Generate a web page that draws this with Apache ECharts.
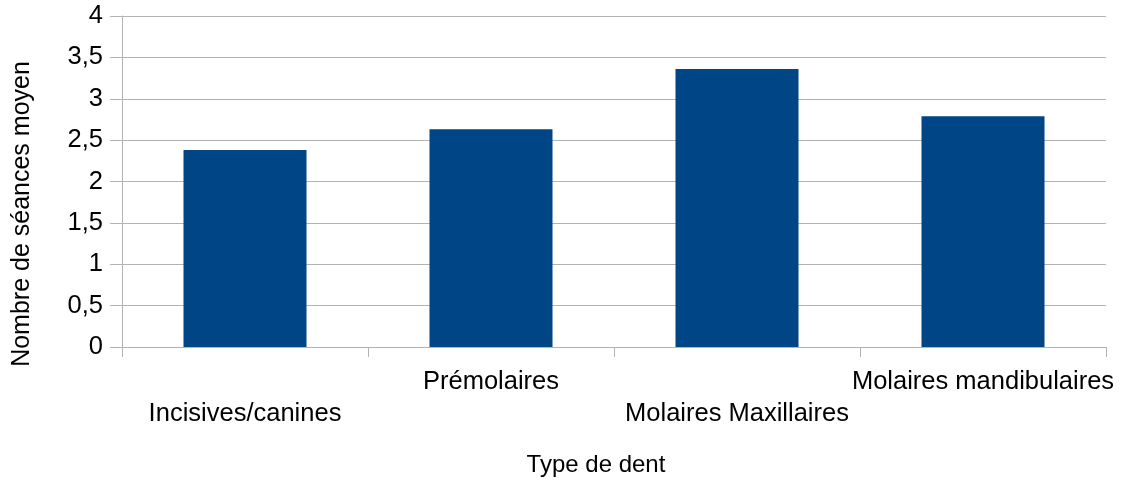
<!DOCTYPE html>
<html>
<head>
<meta charset="utf-8">
<script src="https://cdn.jsdelivr.net/npm/echarts@6/dist/echarts.min.js"></script>
<style>
html,body{margin:0;padding:0;background:#fff;}
#chart{width:1121px;height:483px;}
</style>
</head>
<body>
<div id="chart"></div>
<script>
const categories = ['Incisives/canines', 'Prémolaires', 'Molaires Maxillaires', 'Molaires mandibulaires'];
const values = [2.38, 2.63, 3.36, 2.79];
const yTicks = [0, 0.5, 1, 1.5, 2, 2.5, 3, 3.5, 4];
const yAxisTitle = 'Nombre de séances moyen';
const xAxisTitle = 'Type de dent';

const FONT = '"Liberation Sans", Arial, sans-serif';
const GRAY = '#b3b3b3';

const chart = echarts.init(document.getElementById('chart'), null, {renderer: 'canvas'});
chart.setOption({
  animation: false,
  backgroundColor: '#ffffff',
  grid: {left: 122, right: 15, top: 16, bottom: 136, containLabel: false},
  xAxis: {
    type: 'category',
    data: categories,
    boundaryGap: true,
    axisLine: {show: true, lineStyle: {color: GRAY, width: 1}},
    axisTick: {show: true, length: 10, alignWithLabel: false, lineStyle: {color: GRAY}},
    axisLabel: {
      interval: 0,
      margin: 19,
      color: '#000',
      fontFamily: FONT,
      fontSize: 25.5,
      lineHeight: 32,
      formatter: function (v, i) { return i % 2 === 0 ? '\n' + v : v; }
    },
    splitLine: {show: false}
  },
  yAxis: {
    type: 'value',
    min: yTicks[0],
    max: yTicks[yTicks.length - 1],
    interval: 0.5,
    axisLine: {show: true, lineStyle: {color: GRAY, width: 1}},
    axisTick: {show: true, length: 12, lineStyle: {color: GRAY}},
    axisLabel: {
      margin: 19,
      color: '#000',
      fontFamily: FONT,
      fontSize: 25.5,
      formatter: function (v) { return String(v).replace('.', ','); }
    },
    splitLine: {show: true, lineStyle: {color: GRAY, width: 1}}
  },
  graphic: [
    {
      type: 'text',
      x: 22, y: 214,
      rotation: Math.PI / 2,
      style: {
        text: yAxisTitle,
        font: '25px ' + FONT,
        fill: '#000',
        align: 'center',
        verticalAlign: 'middle'
      }
    },
    {
      type: 'text',
      x: 596, y: 465,
      style: {
        text: xAxisTitle,
        font: '24px ' + FONT,
        fill: '#000',
        align: 'center',
        verticalAlign: 'middle'
      }
    }
  ],
  series: [{
    type: 'bar',
    data: values,
    barWidth: '50%',
    itemStyle: {color: '#004586'},
    emphasis: {disabled: true}
  }]
});
</script>
</body>
</html>
